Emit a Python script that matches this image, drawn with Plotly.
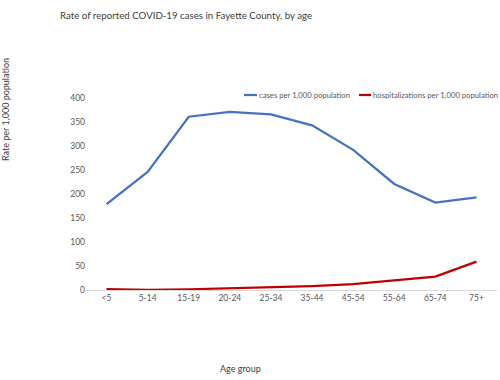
import plotly.graph_objects as go

age_groups = ["<5", "5-14", "15-19", "20-24", "25-34", "35-44", "45-54", "55-64", "65-74", "75+"]
cases_per_1000 = [179, 246, 361, 371, 366, 343, 292, 221, 182, 193]
hosp_per_1000 = [2, 0.5, 1.5, 3.5, 5, 8, 12, 20, 28, 59]
y_ticks = [0, 50, 100, 150, 200, 250, 300, 350, 400]
series_names = ["cases per 1,000 population", "hospitalizations per 1,000 population"]
series_colors = ["#4472C4", "#C00000"]

FONT = "Lato"
GRAY = "#595959"

W, H = 500, 380
L, R, T, B = 86, 3, 98, 90
ph = H - T - B
pw = W - L - R

def px_x(x):
    return (x - L) / pw

def px_y(y):
    return (H - B - y) / ph

fig = go.Figure()
for vals, name, col in zip([cases_per_1000, hosp_per_1000], series_names, series_colors):
    fig.add_trace(go.Scatter(x=age_groups, y=vals, mode="lines", name=name,
                             line=dict(color=col, width=2.25), showlegend=False))

fig.update_layout(
    width=W, height=H,
    margin=dict(l=L, r=R, t=T, b=B, autoexpand=False),
    paper_bgcolor="white", plot_bgcolor="white",
    font=dict(family=FONT, size=8.5, color=GRAY),
    title=dict(text="Rate of reported COVID-19 cases in Fayette County, by age",
               x=60 / W, xanchor="left", y=1 - 16 / H, yanchor="middle",
               font=dict(family=FONT, size=9.7, color="#404040")),
    showlegend=False,
    xaxis=dict(type="category", range=[-0.5, 9.5], showgrid=False, showline=True,
               linecolor="#D9D9D9", linewidth=1, ticks="", automargin=False,
               tickfont=dict(size=8.5, color=GRAY), zeroline=False),
    yaxis=dict(range=[0, 400], tickvals=y_ticks, showgrid=False, showline=False,
               zeroline=False, ticks="", automargin=False,
               tickfont=dict(size=8.5, color=GRAY)),
)

# legend (manual, Excel-style short line keys)
legend_items = [(244, 257, 257), (359, 371, 371)]
for (x0, x1, xt), name, col in zip(legend_items, series_names, series_colors):
    fig.add_shape(type="line", xref="paper", yref="paper",
                  x0=px_x(x0), x1=px_x(x1), y0=px_y(95), y1=px_y(95),
                  line=dict(color=col, width=2.25))
    fig.add_annotation(text=name, xref="paper", yref="paper",
                       x=px_x(xt), y=px_y(95), xanchor="left", yanchor="middle",
                       showarrow=False, font=dict(family=FONT, size=7.7, color=GRAY))

# axis titles
fig.add_annotation(text="Rate per 1,000 population", textangle=-90,
                   xref="paper", yref="paper",
                   x=px_x(5), y=px_y(110),
                   xanchor="center", yanchor="middle", showarrow=False,
                   font=dict(family=FONT, size=9, color="#404040"))
fig.add_annotation(text="Age group", xref="paper", yref="paper",
                   x=px_x(240), y=px_y(368), xanchor="center", yanchor="middle",
                   showarrow=False, font=dict(family=FONT, size=9, color="#404040"))

fig.write_html("out.html", config={"displayModeBar": False},
               post_script="document.body.style.margin='0';")
